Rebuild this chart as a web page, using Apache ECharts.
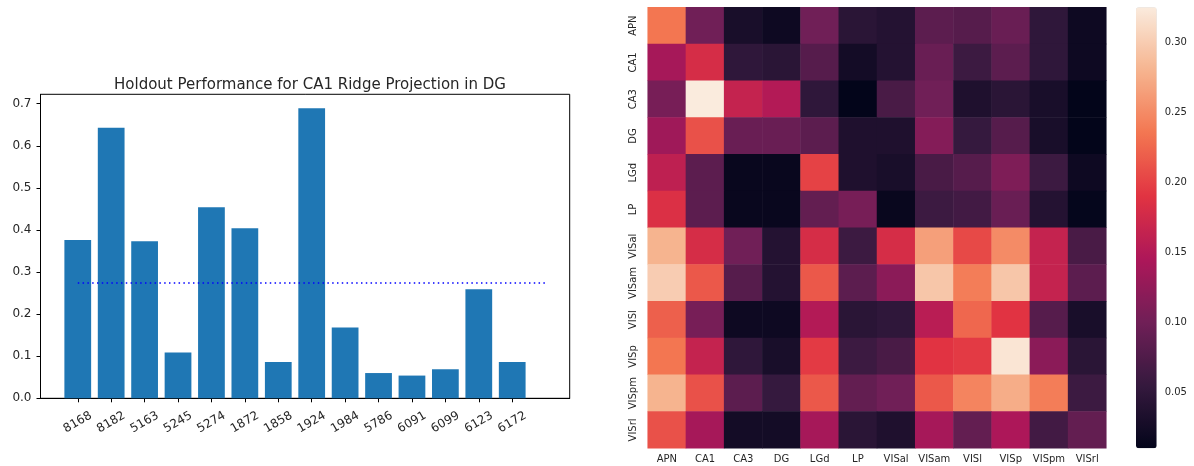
<!DOCTYPE html>
<html>
<head>
<meta charset="utf-8">
<script src="https://cdn.jsdelivr.net/npm/echarts@6/dist/echarts.min.js"></script>
<style>
  html, body { margin: 0; padding: 0; background: #fff; }
  #chart { width: 1194px; height: 466px; }
</style>
</head>
<body>
<div id="chart"></div>
<script>
// bar chart data
const mouseIds = ['8168', '8182', '5163', '5245', '5274', '1872', '1858', '1924', '1984', '5786', '6091', '6099', '6123', '6172']
const holdoutScores = [0.376, 0.643, 0.373, 0.109, 0.454, 0.404, 0.086, 0.689, 0.168, 0.060, 0.054, 0.069, 0.259, 0.086]
const meanScore = 0.274
const yTicks = [0, 0.1, 0.2, 0.3, 0.4, 0.5, 0.6, 0.7]

// heatmap data (rows top to bottom, columns left to right)
const regions = ['APN', 'CA1', 'CA3', 'DG', 'LGd', 'LP', 'VISal', 'VISam', 'VISl', 'VISp', 'VISpm', 'VISrl']
const matrix = [
  [0.235, 0.100, 0.030, 0.020, 0.100, 0.045, 0.040, 0.085, 0.080, 0.095, 0.050, 0.020],
  [0.140, 0.180, 0.050, 0.045, 0.080, 0.025, 0.040, 0.095, 0.060, 0.085, 0.050, 0.020],
  [0.105, 0.325, 0.165, 0.150, 0.050, 0.010, 0.070, 0.100, 0.035, 0.045, 0.030, 0.010],
  [0.135, 0.210, 0.095, 0.095, 0.085, 0.035, 0.035, 0.115, 0.055, 0.080, 0.030, 0.010],
  [0.160, 0.085, 0.015, 0.015, 0.200, 0.035, 0.030, 0.070, 0.080, 0.110, 0.060, 0.020],
  [0.185, 0.085, 0.015, 0.015, 0.090, 0.105, 0.015, 0.060, 0.065, 0.095, 0.040, 0.012],
  [0.280, 0.180, 0.100, 0.040, 0.180, 0.060, 0.180, 0.265, 0.205, 0.250, 0.165, 0.070],
  [0.300, 0.215, 0.080, 0.040, 0.215, 0.085, 0.120, 0.295, 0.240, 0.295, 0.165, 0.085],
  [0.220, 0.105, 0.020, 0.020, 0.150, 0.045, 0.050, 0.155, 0.225, 0.190, 0.080, 0.030],
  [0.235, 0.165, 0.050, 0.030, 0.195, 0.060, 0.070, 0.190, 0.195, 0.320, 0.120, 0.045],
  [0.280, 0.210, 0.085, 0.055, 0.215, 0.090, 0.100, 0.215, 0.245, 0.275, 0.240, 0.060],
  [0.210, 0.140, 0.025, 0.025, 0.140, 0.045, 0.035, 0.140, 0.090, 0.145, 0.065, 0.090]
]
const colorbarTicks = [0.05, 0.10, 0.15, 0.20, 0.25, 0.30]
const colorMin = 0.01
const colorMax = 0.325

// seaborn "rocket" colormap, sampled evenly
const rocket = ['#03051a', '#35193e', '#701f57', '#ad1759', '#e13342', '#f37651', '#f6b48f', '#faebdd']

const font = 'DejaVu Sans'
const textColor = '#262626'

const chart = echarts.init(document.getElementById('chart'), null, { renderer: 'canvas' })

const heatData = []
matrix.forEach((row, r) => {
  row.forEach((v, c) => heatData.push([c, r, v]))
})

const option = {
  animation: false,
  title: {
    text: 'Holdout Performance for CA1 Ridge Projection in DG',
    left: 305,
    top: 73,
    textAlign: 'center',
    textStyle: { fontFamily: font, fontSize: 15, fontWeight: 'normal', color: textColor }
  },
  grid: [
    { left: 40.5, top: 94.3, width: 529.2, height: 304, show: true, borderColor: '#000', borderWidth: 1, backgroundColor: 'transparent' },
    { left: 647.7, top: 7.3, width: 458.6, height: 441 },
    { left: 1136, top: 7.3, width: 20.7, height: 441 }
  ],
  xAxis: [
    {
      gridIndex: 0,
      type: 'value',
      min: -1.115,
      max: 14.72,
      splitLine: { show: false },
      axisLine: { onZero: false, lineStyle: { color: '#000' } },
      axisTick: { customValues: mouseIds.map((_, i) => i), length: 4, lineStyle: { color: '#000' } },
      axisLabel: {
        customValues: mouseIds.map((_, i) => i),
        formatter: v => mouseIds[v],
        rotate: 30,
        align: 'center',
        verticalAlign: 'middle',
        margin: 24,
        fontFamily: font,
        fontSize: 12,
        color: textColor
      }
    },
    {
      gridIndex: 1,
      type: 'category',
      data: regions,
      axisLine: { show: false },
      axisTick: { alignWithLabel: true, length: 3, lineStyle: { color: '#333' } },
      axisLabel: { interval: 0, margin: 6, fontFamily: font, fontSize: 10, color: textColor }
    },
    { gridIndex: 2, type: 'value', show: false, min: 0, max: 1 }
  ],
  yAxis: [
    {
      gridIndex: 0,
      type: 'value',
      min: 0,
      max: 0.7223,
      splitLine: { show: false },
      axisLine: { show: true, onZero: false, lineStyle: { color: '#000' } },
      axisTick: { show: true, customValues: yTicks, length: 4, lineStyle: { color: '#000' } },
      axisLabel: {
        customValues: yTicks,
        formatter: v => v.toFixed(1),
        margin: 9,
        fontFamily: font,
        fontSize: 12,
        color: textColor
      }
    },
    {
      gridIndex: 1,
      type: 'category',
      data: regions,
      inverse: true,
      axisLine: { show: false },
      axisTick: { alignWithLabel: true, length: 3, lineStyle: { color: '#333' } },
      axisLabel: {
        interval: 0,
        rotate: 90,
        align: 'center',
        verticalAlign: 'bottom',
        margin: 9,
        fontFamily: font,
        fontSize: 10,
        color: textColor
      }
    },
    {
      gridIndex: 2,
      type: 'value',
      position: 'right',
      min: colorMin,
      max: colorMax,
      splitLine: { show: false },
      axisLine: { show: false },
      axisTick: { show: true, customValues: colorbarTicks, length: 3, lineStyle: { color: '#333' } },
      axisLabel: {
        customValues: colorbarTicks,
        formatter: v => v.toFixed(2),
        margin: 8,
        fontFamily: font,
        fontSize: 10,
        color: textColor
      }
    }
  ],
  visualMap: {
    type: 'continuous',
    seriesIndex: 2,
    min: colorMin,
    max: colorMax,
    calculable: false,
    hoverLink: false,
    left: 1136,
    top: 7.3,
    padding: 0,
    itemWidth: 20.7,
    itemHeight: 441,
    inRange: { color: rocket }
  },
  series: [
    {
      type: 'bar',
      xAxisIndex: 0,
      yAxisIndex: 0,
      barWidth: 26.75,
      itemStyle: { color: '#1f77b4' },
      data: holdoutScores.map((v, i) => [i, v])
    },
    {
      type: 'line',
      xAxisIndex: 0,
      yAxisIndex: 0,
      showSymbol: false,
      z: 5,
      lineStyle: { color: '#0000ff', width: 1.5, type: [1.5, 3.3] },
      data: [[0, meanScore], [mouseIds.length, meanScore]]
    },
    {
      type: 'heatmap',
      xAxisIndex: 1,
      yAxisIndex: 1,
      data: heatData
    }
  ]
}

chart.setOption(option)
</script>
</body>
</html>
